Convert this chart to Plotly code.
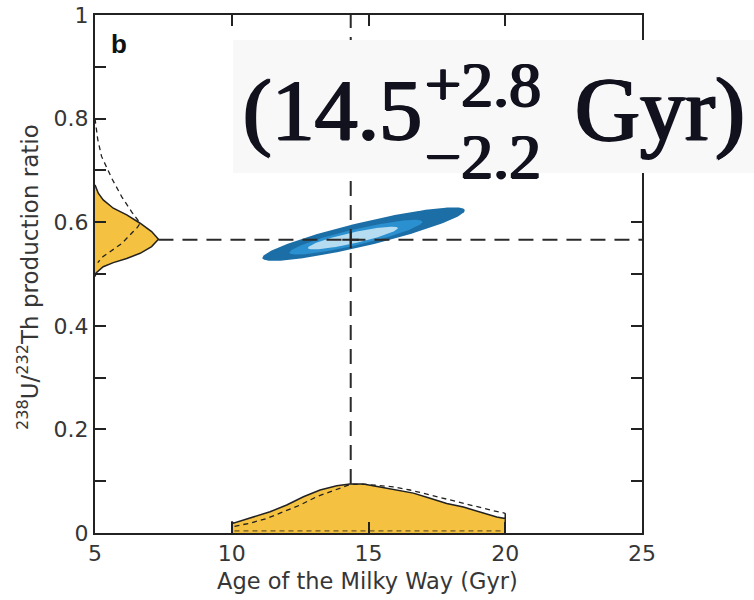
import numpy as np
import plotly.graph_objects as go

# ---------------- data ----------------
# Age PDF along the bottom axis (solid, filled)
age_pdf_x = [10.0, 10.0, 10.06, 10.79, 11.4, 12.01, 12.62, 13.23, 13.84, 14.32, 14.81,
             15.42, 16.03, 16.64, 17.25, 17.86, 18.47, 19.08, 19.69, 20.0, 20.0, 20.0]
age_pdf_y = [0.0, 0.022, 0.019, 0.031, 0.041, 0.054, 0.070, 0.083, 0.091, 0.0946, 0.0946,
             0.089, 0.083, 0.077, 0.067, 0.057, 0.050, 0.041, 0.031, 0.028, 0.038, 0.0]
# Age PDF (dashed, alternative)
age_pdf2_x = [10.1, 10.67, 11.28, 11.89, 12.5, 13.1, 13.59, 14.08, 14.35, 14.9, 15.4,
              15.9, 16.52, 17.13, 17.74, 18.35, 18.96, 19.57, 20.0]
age_pdf2_y = [0.013, 0.019, 0.028, 0.041, 0.054, 0.070, 0.080, 0.089, 0.094, 0.094, 0.092,
              0.089, 0.083, 0.075, 0.067, 0.058, 0.051, 0.043, 0.038]
age_base_x = [10.1, 20.0]
age_base_y = [0.004, 0.004]

# Production-ratio PDF along the left axis (solid, filled)
ratio_pdf_x = [5.0, 5.12, 5.30, 5.67, 6.16, 6.65, 7.07, 7.32, 7.07, 6.65, 6.16, 5.67,
               5.30, 5.04, 5.0]
ratio_pdf_y = [0.672, 0.656, 0.643, 0.627, 0.614, 0.598, 0.582, 0.567, 0.553, 0.540,
               0.530, 0.522, 0.514, 0.502, 0.495]
# Production-ratio PDF (dashed, alternative)
ratio_pdf2_x = [5.0, 5.1, 5.24, 5.61, 5.98, 6.34, 6.65, 6.55, 6.40, 5.98, 5.55, 5.30, 5.1]
ratio_pdf2_y = [0.80, 0.76, 0.727, 0.685, 0.649, 0.620, 0.598, 0.590, 0.582, 0.559,
                0.543, 0.534, 0.522]

# Best estimate (cross-hair)
best_age = 14.35
best_ratio = 0.566

# Confidence ellipses: centre, half major axis vector, half minor axis vector
ell_center_age = [14.82, 14.54, 14.43]
ell_center_ratio = [0.577, 0.571, 0.5695]
ell_major_age = [3.70, 2.43, 1.645]
ell_major_ratio = [0.0465, 0.030, 0.0193]
ell_minor_age = [-0.102, -0.068, -0.047]
ell_minor_ratio = [0.0225, 0.0150, 0.0103]
ell_colors = ["#1c6ea6", "#2b90d0", "#b6dcf1"]

x_ticks = [5, 10, 15, 20, 25]
y_ticks = [0, 0.2, 0.4, 0.6, 0.8, 1]
y_ticklabels = ["0", "0.2", "0.4", "0.6", "0.8", "1"]

# ---------------- figure ----------------
W, H = 754, 600
L, R, T, B = 95, 112, 15, 67


def px(xp):
    return (xp - L) / (W - L - R)


def py(yp):
    return (H - B - yp) / (H - T - B)


fig = go.Figure()

gold = "#f5c140"
ink = "#222222"

# ellipses
t = np.linspace(0, 2 * np.pi, 200)
for i in range(3):
    ex = ell_center_age[i] + ell_major_age[i] * np.cos(t) + ell_minor_age[i] * np.sin(t)
    ey = ell_center_ratio[i] + ell_major_ratio[i] * np.cos(t) + ell_minor_ratio[i] * np.sin(t)
    fig.add_trace(go.Scatter(x=ex, y=ey, mode="lines", fill="toself",
                             fillcolor=ell_colors[i], line=dict(width=0, color=ell_colors[i]),
                             hoverinfo="skip", showlegend=False))

# bottom PDF
fig.add_trace(go.Scatter(x=age_pdf_x, y=age_pdf_y, mode="lines", fill="tozeroy",
                         fillcolor=gold, line=dict(color=ink, width=1.5),
                         showlegend=False))
fig.add_trace(go.Scatter(x=age_pdf2_x, y=age_pdf2_y, mode="lines",
                         line=dict(color=ink, width=1.3, dash="5px,4px"), showlegend=False))
fig.add_trace(go.Scatter(x=age_base_x, y=age_base_y, mode="lines",
                         line=dict(color="#6b5a2a", width=1.2, dash="5px,4px"), showlegend=False))

# left PDF
fig.add_trace(go.Scatter(x=ratio_pdf_x, y=ratio_pdf_y, mode="lines", fill="toself",
                         fillcolor=gold, line=dict(color=ink, width=1.5), showlegend=False))
fig.add_trace(go.Scatter(x=ratio_pdf2_x, y=ratio_pdf2_y, mode="lines",
                         line=dict(color=ink, width=1.3, dash="5px,4px"), showlegend=False))

# cross-hair dashed lines
fig.add_trace(go.Scatter(x=[best_age, best_age], y=[max(age_pdf_y), 1.0], mode="lines",
                         line=dict(color="#2a2a2a", width=2, dash="15px,9px"), showlegend=False))
fig.add_trace(go.Scatter(x=[max(ratio_pdf_x), 25], y=[best_ratio, best_ratio], mode="lines",
                         line=dict(color="#2a2a2a", width=2, dash="15px,9px"), showlegend=False))
fig.add_trace(go.Scatter(x=[best_age], y=[best_ratio], mode="markers",
                         marker=dict(symbol="cross-thin", size=12,
                                     line=dict(color="#222", width=2)), showlegend=False))

sans = "DejaVu Sans, Liberation Sans, Arial, sans-serif"
tickfont = dict(family=sans, size=22, color="#363636")

fig.update_xaxes(range=[5, 25], tickvals=x_ticks, ticks="inside", ticklen=11, tickwidth=2,
                 tickcolor=ink, showline=True, linewidth=2, linecolor=ink, mirror="ticks",
                 showgrid=False, zeroline=False, tickfont=tickfont, automargin=False)
fig.update_yaxes(range=[0, 1], tickvals=y_ticks, ticktext=y_ticklabels, ticks="inside",
                 ticklen=11, tickwidth=2, tickcolor=ink, showline=True, linewidth=2,
                 linecolor=ink, mirror="ticks", showgrid=False, zeroline=False,
                 tickfont=tickfont, automargin=False,
                 minor=dict(tickvals=[0.1, 0.3, 0.5, 0.7, 0.9], ticks="inside", ticklen=11,
                            tickwidth=2, tickcolor=ink))

serif = "Liberation Serif, Times New Roman, serif"
txtc = "#12121f"
thick = "1.2px 0px 0px #12121f, -1.2px 0px 0px #12121f, 0px 0.8px 0px #12121f"
annotations = [
    dict(text="Age of the Milky Way (Gyr)", x=px(367), y=py(581), xref="paper", yref="paper",
         showarrow=False, xanchor="center", yanchor="middle",
         font=dict(family=sans, size=22.5, color="#363636")),
    dict(text="<sup>238</sup>U/<sup>232</sup>Th production ratio", x=px(28), y=py(277),
         xref="paper", yref="paper", showarrow=False, textangle=-90,
         xanchor="center", yanchor="middle",
         font=dict(family=sans, size=23, color="#363636")),
    dict(text="<b>b</b>", x=px(119), y=py(44), xref="paper", yref="paper", showarrow=False,
         xanchor="center", yanchor="middle",
         font=dict(family="Liberation Sans, Arial, sans-serif", size=26, color="#111")),
    dict(text="(14.5", x=px(241), y=py(110), xref="paper", yref="paper",
         showarrow=False, xanchor="left", yanchor="middle",
         font=dict(family=serif, size=86, color=txtc, shadow=thick)),
    dict(text="+2.8", x=px(423), y=py(85), xref="paper", yref="paper",
         showarrow=False, xanchor="left", yanchor="middle",
         font=dict(family=serif, size=64, color=txtc, shadow=thick)),
    dict(text="\u22122.2", x=px(423), y=py(156), xref="paper", yref="paper",
         showarrow=False, xanchor="left", yanchor="middle",
         font=dict(family=serif, size=64, color=txtc, shadow=thick)),
    dict(text="Gyr)", x=px(573), y=py(110), xref="paper", yref="paper",
         showarrow=False, xanchor="left", yanchor="middle",
         font=dict(family=serif, size=90, color=txtc, shadow=thick)),
]

fig.update_layout(
    width=W, height=H, margin=dict(l=L, r=R, t=T, b=B, autoexpand=False),
    paper_bgcolor="white", plot_bgcolor="white",
    annotations=annotations,
    shapes=[dict(type="rect", xref="paper", yref="paper", x0=px(233), x1=px(754),
                 y0=py(173), y1=py(40), fillcolor="#f8f8f8", line=dict(width=0),
                 layer="above")],
)

fig.write_html("out.html")
